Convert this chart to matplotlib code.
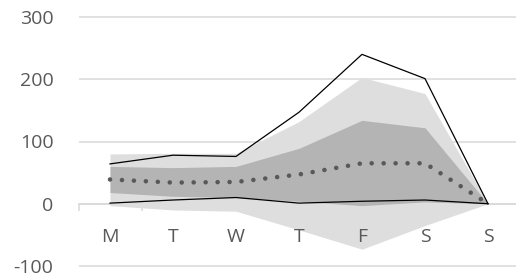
import matplotlib
matplotlib.use("Agg")
import matplotlib.pyplot as plt
import matplotlib.transforms as mtransforms
import numpy as np

categories = ['M', 'T', 'W', 'T', 'F', 'S', 'S']
outer_hi = [80, 81, 81, 132, 203, 177, 0]
outer_lo = [-3, -10, -12, -42, -73, -35, 0]
inner_hi = [60, 58, 60, 89, 134, 122, 0]
inner_lo = [18, 12, 10, 4, -3, 3, 0]
max_line = [64, 78, 76, 147, 240, 201, 0]
min_line = [1, 6, 10, 1, 4, 6, 0]
mean_line = [39, 34, 35, 47, 65, 65, 0]
yticks = [-100, 0, 100, 200, 300]

W, H = 516, 280
fig = plt.figure(figsize=(W / 100, H / 100), dpi=100)
ylo, yhi = -102, 302
ppu = 62.25 / 100
bottom_px = H - (266 + 2 * ppu)
height_px = (yhi - ylo) * ppu
ax = fig.add_axes([78.5 / W, bottom_px / H, 441 / W, height_px / H])
ax.set_xlim(-0.5, 6.5)
ax.set_ylim(ylo, yhi)

x = np.arange(len(categories))
grey_txt = '#595959'
grid_c = '#d9d9d9'

ax.fill_between(x, outer_lo, outer_hi, color='#dedede', lw=0, zorder=1)
ax.fill_between(x, inner_lo, inner_hi, color='#b4b4b4', lw=0, zorder=2)
ax.plot(x, max_line, color='black', lw=0.9, zorder=3)
ax.plot(x, min_line, color='black', lw=0.9, zorder=3)
ax.plot(x, mean_line, color='#595959', lw=3.3, linestyle=(0, (0.01, 2.6)),
        dash_capstyle='round', solid_capstyle='round', zorder=4)

ax.set_axisbelow(True)
ax.set_yticks(yticks)
ax.set_yticklabels([str(v) for v in yticks])
ax.yaxis.grid(True, color=grid_c, lw=1.1)
ax.tick_params(axis='y', length=0, pad=18, labelsize=14, labelcolor=grey_txt)

ax.set_xticks(x)
ax.set_xticklabels([])
ax.set_xticks(np.arange(-0.5, 7, 1), minor=True)
ax.tick_params(axis='x', which='major', length=0)
ax.tick_params(axis='x', which='minor', length=5, width=1.1, color=grid_c, direction='out')

offset = mtransforms.ScaledTranslation(0, -33 / 100, fig.dpi_scale_trans)
for xi, lab in zip(x, categories):
    ax.text(xi, 0, lab, transform=ax.transData + offset, ha='center', va='center',
            fontsize=14, color=grey_txt, family='Open Sans', zorder=10,
            clip_on=False)

for s in ['left', 'right', 'top']:
    ax.spines[s].set_visible(False)
ax.spines['bottom'].set_position(('data', 0))
ax.spines['bottom'].set_color(grid_c)
ax.spines['bottom'].set_linewidth(1.1)
ax.spines['bottom'].set_zorder(0.5)

for lab in ax.get_yticklabels():
    lab.set_fontfamily('Open Sans')

fig.savefig('out.png', dpi=100)
